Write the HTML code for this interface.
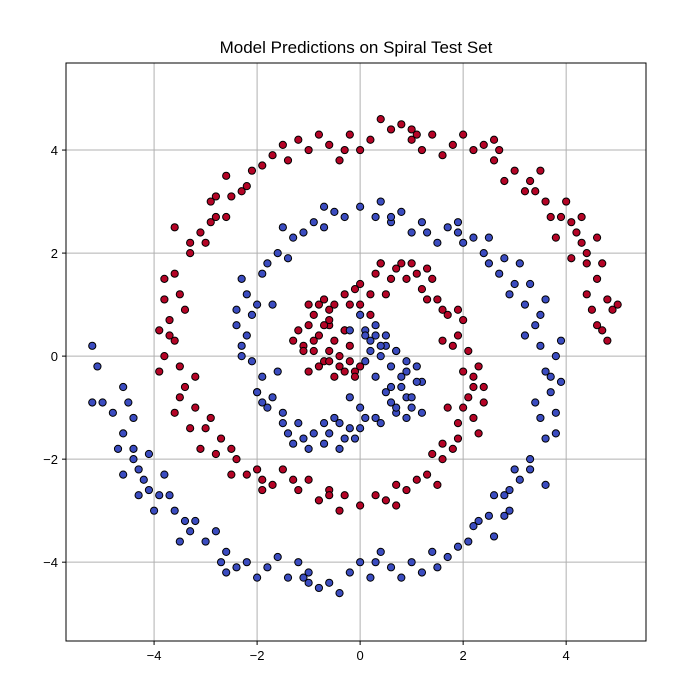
<!DOCTYPE html>
<html><head><meta charset="utf-8"><style>
body{margin:0;background:#fff;}
svg text{font-family:"Liberation Sans",sans-serif;}
</style></head><body>
<svg id="chart" width="687" height="691" xmlns="http://www.w3.org/2000/svg">
<rect width="687" height="691" fill="#fff"/>
<text x="356" y="53" font-size="17" text-anchor="middle">Model Predictions on Spiral Test Set</text>
<g id="grid"></g>
<g id="points"></g>
<rect x="66" y="63" width="580" height="578" fill="none" stroke="#000" stroke-width="1"/>
<g id="axes"></g>
</svg>
<script>
const xTicks=[-4,-2,0,2,4];
const yTicks=[-4,-2,0,2,4];
const redX=[-0.2,-0.5,-0.8,-0.9,-0.6,-0.3,0,0.3,0.6,0.9,1.2,1.5,1.7,1.9,2.1,2.2,2.1,2.2,1.9,1.6,1.3,0.9,0.5,0,-0.4,-0.8,-1.2,-1.7,-2.0,-2.4,-2.7,-3.0,-3.2,-3.4,-3.5,-3.6,-3.7,-3.5,-3.6,-3.3,-3.1,-2.8,-2.5,-2.2,-1.9,-1.4,-1.0,-0.6,-0.2,0.2,0.6,1.0,1.4,1.8,2.2,2.6,3.0,3.3,3.6,3.9,4.2,4.4,4.6,4.8,4.9,4.8,4.7,
-0.4,-0.7,-1.1,-1.2,-0.9,-0.1,0.2,0.5,1.0,1.4,2.0,2.3,2.0,1.8,1.1,0.3,-0.3,-1.0,-1.5,-2.2,-2.8,-3.1,-3.3,-3.2,-3.8,-3.9,-3.4,-3.8,-3.6,-3.0,-2.6,-2.8,-2.3,-1.7,-0.8,-0.4,0.4,0.8,1.2,1.6,2.0,2.4,2.8,3.2,3.5,3.8,4.0,4.3,4.1,4.4,4.7,4.6,5.0,4.4,
-0.6,-0.3,-1.0,-0.7,0.0,0.4,0.7,1.3,1.6,1.9,2.4,1.7,1.4,0.7,-0.6,-1.3,-1.9,-2.5,-2.9,-3.5,-3.7,-3.3,-2.9,-2.1,-1.2,0.0,1.1,2.7,3.4,4.1,4.5,4.3,
-0.2,-0.4,-0.6,-0.3,-0.8,-1.0,-0.5,-0.1,0.0,-1.1,-1.3,-1.0,-0.7,-0.8,-0.5,-0.6,-0.2,-0.1,0.2,0.4,0.8,1.1,1.3,1.6,1.8,2.0,2.2,1.9,1.6,-0.9,-0.3,-0.6,
-2.9,-2.6,-1.5,-0.3,1.0,2.6,3.7,4.6,-3.8,-3.9,-3.6,-2.5,-1.9,-0.6,0.7,1.5,2.3,2.4];
const redY=[0.2,0.3,0.4,0.8,0.9,1.2,1.4,1.6,1.5,1.5,1.3,1.1,0.8,0.4,0.1,-0.4,-0.8,-1.2,-1.6,-2.0,-2.3,-2.6,-2.8,-2.9,-3.0,-2.8,-2.6,-2.5,-2.2,-2.0,-1.6,-1.4,-1.0,-0.6,-0.2,0.3,0.7,1.2,1.6,2.0,2.4,2.7,3.1,3.3,3.7,3.8,4.0,4.1,4.3,4.2,4.4,4.2,4.3,4.1,4.0,3.8,3.6,3.4,3.0,2.7,2.4,2.0,1.5,1.1,0.9,0.3,0.5,
-0.2,-0.1,0.2,0.5,0.1,-0.3,0.8,1.2,1.8,1.5,0.7,-0.2,-1.0,-1.8,-2.4,-2.7,-2.7,-2.4,-2.2,-2.3,-1.9,-1.8,-1.4,-0.4,0.0,0.5,0.9,1.5,2.5,2.2,2.7,3.1,3.2,3.9,4.3,3.8,4.6,4.5,4.0,3.9,4.3,4.1,3.4,3.2,3.6,2.3,3.0,2.7,1.9,1.2,1.8,0.6,1.0,1.8,
0.6,0.5,1.0,1.1,1.0,1.8,1.7,1.7,0.3,0.9,-0.6,-1.0,-1.9,-2.5,-2.6,-2.4,-2.4,-1.8,-1.2,-0.8,0.4,2.2,2.6,3.6,4.2,4.0,4.3,4.0,3.2,2.6,0.9,2.2,
-0.1,0.0,0.1,-0.3,-0.2,-0.3,-0.4,-0.4,-0.2,0.1,0.3,0.6,0.6,1.0,1.0,0.7,1.0,1.3,1.2,1.8,1.8,1.6,1.1,0.9,0.2,-0.3,-0.6,-1.3,-1.7,0.3,0.5,-0.1,
3.0,3.5,4.1,4.0,4.4,4.2,2.7,2.3,1.1,-0.3,-1.1,-2.3,-2.6,-2.7,-2.9,-2.5,-1.5,-0.9];
const blueX=[0.2,0.5,0.8,0.9,0.6,0.3,0,-0.3,-0.6,-0.9,-1.2,-1.5,-1.7,-1.9,-2.1,-2.2,-2.1,-2.2,-1.9,-1.6,-1.3,-0.9,-0.5,0,0.4,0.8,1.2,1.7,2.0,2.4,2.7,3.0,3.2,3.4,3.5,3.6,3.7,3.5,3.6,3.3,3.1,2.8,2.5,2.2,1.9,1.4,1.0,0.6,0.2,-0.2,-0.6,-1.0,-1.4,-1.8,-2.2,-2.6,-3.0,-3.3,-3.6,-3.9,-4.2,-4.4,-4.6,-4.8,-5.0,-5.1,-5.2,
0.4,0.7,1.1,1.2,0.9,0.1,-0.2,-0.5,-1.0,-1.4,-2.0,-2.3,-2.0,-1.8,-1.1,-0.3,0.3,1.0,1.5,2.2,2.8,3.1,3.3,3.2,3.8,3.9,3.4,3.8,3.6,3.0,2.6,2.8,2.3,1.7,0.8,0.4,-0.4,-0.8,-1.2,-1.6,-2.0,-2.4,-2.8,-3.2,-3.5,-3.8,-4.0,-4.3,-4.1,-4.4,-4.7,-4.6,-5.2,-4.4,
0.6,0.3,1.0,0.7,0.0,-0.4,-0.7,-1.3,-1.6,-1.9,-2.4,-1.7,-1.4,-0.7,0.6,1.3,1.9,2.5,2.9,3.5,3.7,3.3,2.9,2.1,1.2,0.0,-1.1,-2.7,-3.4,-4.1,-4.5,-4.3,
0.2,0.4,0.1,0.3,0.5,0.7,0.6,0.9,0.8,0.5,1.0,1.1,0.7,0.4,0.1,-0.2,-0.4,-0.7,-0.2,0.0,0.3,1.2,0.9,-0.1,-1.1,-1.5,-1.8,-2.0,-2.3,0.1,
2.9,2.6,1.5,0.3,-1.0,-2.6,-3.7,-4.6,3.8,3.9,3.6,2.5,1.9,0.6,-0.7,-1.5,-2.3,-2.4];
const blueY=[0.3,0.2,-0.4,-0.8,-0.9,-1.2,-1.4,-1.6,-1.5,-1.5,-1.3,-1.1,-0.8,-0.4,-0.1,0.4,0.8,1.2,1.6,2.0,2.3,2.6,2.8,2.9,3.0,2.8,2.6,2.5,2.2,2.0,1.6,1.4,1.0,0.6,0.2,-0.3,-0.7,-1.2,-1.6,-2.0,-2.4,-2.7,-3.1,-3.3,-3.7,-3.8,-4.0,-4.1,-4.3,-4.2,-4.4,-4.2,-4.3,-4.1,-4.0,-3.8,-3.6,-3.4,-3.0,-2.7,-2.4,-2.0,-1.5,-1.1,-0.9,-0.2,0.2,
0.2,0.1,-0.2,-0.5,-0.1,0.5,-0.8,-1.2,-1.8,-1.5,-0.7,0.2,1.0,1.8,2.4,2.7,2.7,2.4,2.2,2.3,1.9,1.8,1.4,0.4,0.0,-0.5,-0.9,-1.5,-2.5,-2.2,-2.7,-3.1,-3.2,-3.9,-4.3,-3.8,-4.6,-4.5,-4.0,-3.9,-4.3,-4.1,-3.4,-3.2,-3.6,-2.3,-3.0,-2.7,-1.9,-1.2,-1.8,-0.6,-0.9,-1.8,
-0.6,0.4,-1.0,-1.1,-1.0,-1.8,-1.7,-1.7,-0.3,-0.9,0.6,1.0,1.9,2.5,2.6,2.4,2.4,1.8,1.2,0.8,-0.4,-2.2,-2.6,-3.6,-4.2,-4.0,-4.3,-4.0,-3.2,-2.6,-0.9,-2.2,
0.1,0.0,0.4,0.6,0.4,0.1,-0.2,-0.3,-0.6,-0.7,-0.8,-0.5,-1.0,-1.3,-1.2,-1.4,-1.3,-1.3,0.5,0.8,-0.4,-1.1,-1.2,-1.6,-1.6,-1.3,-1.0,-0.7,0.0,-0.1,
-3.0,-3.5,-4.1,-4.0,-4.4,-4.2,-2.7,-2.3,-1.1,0.3,1.1,2.3,2.6,2.7,2.9,2.5,1.5,0.9];

const NS="http://www.w3.org/2000/svg";
const X0=-5.71,X1=5.55,Y0=-5.53,Y1=5.69,L=66,R=646,T=63,B=641;
function sx(v){return L+(v-X0)/(X1-X0)*(R-L);}
function sy(v){return B-(v-Y0)/(Y1-Y0)*(B-T);}
const grid=document.getElementById('grid'),axes=document.getElementById('axes'),pts=document.getElementById('points');
function mk(tag,attrs,parent){const e=document.createElementNS(NS,tag);for(const k in attrs)e.setAttribute(k,attrs[k]);parent.appendChild(e);return e;}
xTicks.forEach(t=>{
  const g=mk('line',{x1:sx(t),x2:sx(t),y1:T,y2:B,stroke:'#b0b0b0','stroke-width':1},grid);
  
  
  const tk=mk('line',{x1:sx(t),x2:sx(t),y1:B,y2:B+4,stroke:'#000'},axes);
  
  
  const tx=mk('text',{x:sx(t),y:B+19,'font-size':13,'text-anchor':'middle'},axes);
  tx.textContent=t<0?'\u2212'+(-t):String(t);
  
  
});
yTicks.forEach(t=>{
  const g=mk('line',{x1:L,x2:R,y1:sy(t),y2:sy(t),stroke:'#b0b0b0','stroke-width':1},grid);
  
  
  const tk=mk('line',{x1:L-4,x2:L,y1:sy(t),y2:sy(t),stroke:'#000'},axes);
  
  
  const tx=mk('text',{x:L-8,y:sy(t)+5,'font-size':13,'text-anchor':'end'},axes);
  tx.textContent=t<0?'\u2212'+(-t):String(t);
  
  
});
function draw(xs,ys,col,name){
  for(let i=0;i<xs.length;i++){
    const c=mk('circle',{cx:sx(xs[i]),cy:sy(ys[i]),r:3.6,fill:col,stroke:'#000','stroke-width':1},pts);
    
    
  }
}
draw(redX,redY,'#b40426','red-point');
draw(blueX,blueY,'#3b4cc0','blue-point');
</script>
</body></html>
